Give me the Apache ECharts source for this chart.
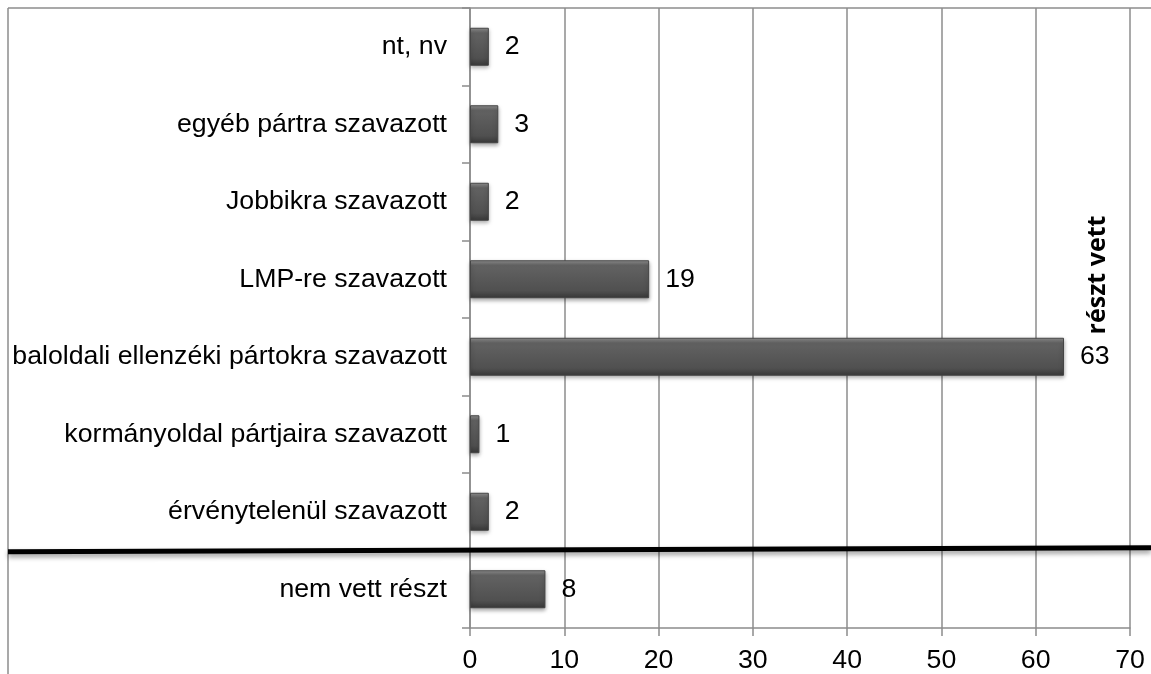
<!DOCTYPE html>
<html>
<head>
<meta charset="utf-8">
<script src="https://cdn.jsdelivr.net/npm/echarts@6/dist/echarts.min.js"></script>
<style>
html, body { margin: 0; padding: 0; background: #fff; }
#chartContainer { width: 1151px; height: 674px; }
</style>
</head>
<body>
<div id="chartContainer"></div>
<script>
// categories from bottom to top
const categories = [
    'nem vett részt',
    'érvénytelenül szavazott',
    'kormányoldal pártjaira szavazott',
    'baloldali ellenzéki pártokra szavazott',
    'LMP-re szavazott',
    'Jobbikra szavazott',
    'egyéb pártra szavazott',
    'nt, nv'
];
const values = [8, 2, 1, 63, 19, 2, 3, 2];
const xTicks = [0, 10, 20, 30, 40, 50, 60, 70];

const chart = echarts.init(document.getElementById('chartContainer'), null, {renderer: 'canvas'});
const barColor = {
    type: 'linear', x: 0, y: 0, x2: 0, y2: 1,
    colorStops: [
        {offset: 0, color: '#939393'},
        {offset: 0.14, color: '#626262'},
        {offset: 0.8, color: '#505050'},
        {offset: 1, color: '#383838'}
    ]
};
const option = {
    animation: false,
    grid: {left: 470, right: 21, top: 8, bottom: 44, containLabel: false},
    xAxis: {
        type: 'value',
        min: xTicks[0],
        max: xTicks[xTicks.length - 1],
        interval: 10,
        axisLine: {show: true, lineStyle: {color: '#8c8c8c', width: 1.5}},
        axisTick: {show: true, length: 8, lineStyle: {color: '#8c8c8c', width: 1.5}},
        axisLabel: {color: '#000', fontSize: 26.7, fontFamily: 'Liberation Sans', margin: 19},
        splitLine: {show: true, lineStyle: {color: '#8c8c8c', width: 1.5}}
    },
    yAxis: {
        type: 'category',
        data: categories,
        axisLine: {show: true, lineStyle: {color: '#8c8c8c', width: 1.5}},
        axisTick: {show: true, length: 8, lineStyle: {color: '#8c8c8c', width: 1.5}},
        axisLabel: {color: '#000', fontSize: 26.7, fontFamily: 'Liberation Sans', margin: 23}
    },
    series: [
        {
            type: 'bar',
            data: values,
            barWidth: '49%',
            itemStyle: {
                color: barColor,
                borderColor: '#454545',
                borderWidth: 1,
                shadowColor: 'rgba(0,0,0,0.35)',
                shadowBlur: 4,
                shadowOffsetY: 2
            },
            label: {
                show: true,
                position: 'right',
                distance: 16,
                color: '#000',
                fontSize: 26.7,
                fontFamily: 'Liberation Sans'
            }
        }
    ]
};
chart.setOption(option);

// separator between "nem vett részt" and the rest
const yA = chart.convertToPixel({yAxisIndex: 0}, 0);
const yB = chart.convertToPixel({yAxisIndex: 0}, 1);
const sepY = (yA + yB) / 2;

chart.setOption({
    graphic: [
        {
            type: 'line',
            shape: {x1: 8, y1: 8, x2: 1151, y2: 8},
            style: {stroke: '#8c8c8c', lineWidth: 1.5}
        },
        {
            type: 'line',
            shape: {x1: 8, y1: 8, x2: 8, y2: 674},
            style: {stroke: '#8c8c8c', lineWidth: 1.5}
        },
        {
            type: 'line',
            shape: {x1: 8, y1: sepY + 1.2, x2: 1151, y2: sepY - 2.8},
            style: {
                stroke: '#000', lineWidth: 5,
                shadowColor: 'rgba(0,0,0,0.4)', shadowBlur: 5, shadowOffsetY: 3
            },
            z: 10
        },
        {
            type: 'text',
            x: 1098,
            y: 275,
            rotation: Math.PI / 2,
            style: {
                text: 'részt vett',
                fontSize: 25,
                fontWeight: 'bold',
                fontFamily: 'Open Sans',
                fill: '#000',
                align: 'center',
                verticalAlign: 'middle'
            },
            z: 10
        }
    ]
});
</script>
</body>
</html>
